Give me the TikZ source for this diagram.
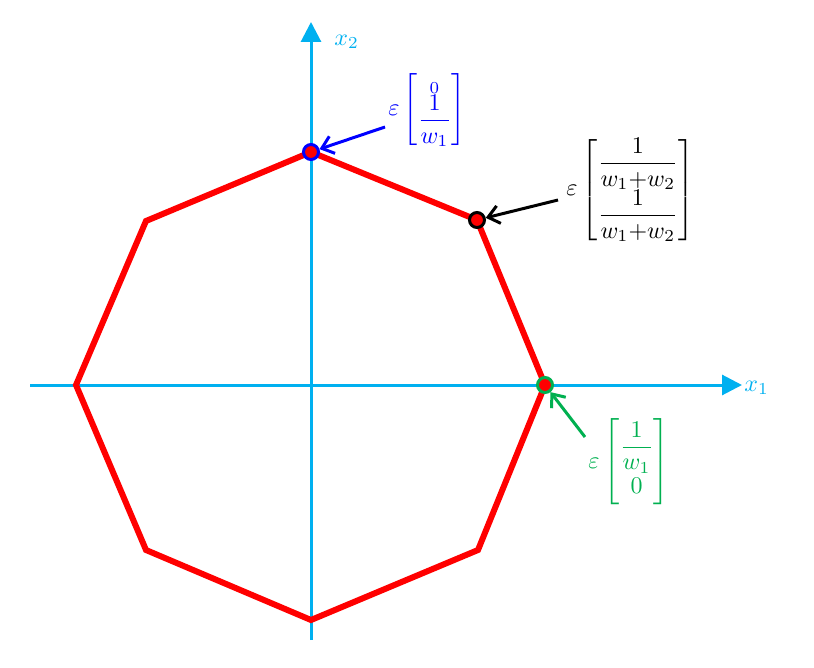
\documentclass[tikz,border=0pt]{standalone}
\usepackage{amsmath}
\definecolor{axc}{RGB}{0,176,240}
\definecolor{grn}{RGB}{0,176,80}
\usetikzlibrary{arrows.meta}
\begin{document}
\begin{tikzpicture}[x=1pt,y=-1pt,
  axis/.style={axc,line width=3pt,-{Triangle[length=20pt,width=20pt]}},
  poly/.style={red,line width=6pt,line join=miter},
  dot/.style={circle,fill=red,draw=#1,line width=3pt,inner sep=0pt,minimum size=15pt},
  lab/.style={font=\normalsize,scale=2.4,inner sep=0pt},
  ptr/.style={line width=3pt,-{Straight Barb[length=11pt,width=18pt]}}]
\useasboundingbox (0,0) rectangle (814,668);
\coordinate (xl) at (30,385); \coordinate (xr) at (742,385);
\coordinate (yb) at (311,640); \coordinate (yt) at (311,22);
\draw[axis] (xl) -- (xr);
\draw[axis] (yb) -- (yt);
\node[axc,lab,anchor=west] (x1) at (744,388) {$x_1$};
\node[axc,lab,anchor=west] (x2) at (334,42) {$x_2$};
\coordinate (p1) at (311,152); \coordinate (p2) at (477,220); \coordinate (p3) at (545,385);
\coordinate (p4) at (478,550); \coordinate (p5) at (311,620); \coordinate (p6) at (146,550);
\coordinate (p7) at (76,385); \coordinate (p8) at (146,221);
\draw[poly] (p1)--(p2)--(p3)--(p4)--(p5)--(p6)--(p7)--(p8)--cycle;
\node[dot=blue] (d1) at (p1) {};
\node[dot=black] (d2) at (p2) {};
\node[dot=grn] (d3) at (p3) {};
\node[lab,blue,anchor=west] (l1) at (388,110) {$\varepsilon\begin{bmatrix}\scriptstyle 0\\[-3pt] \dfrac{1}{w_1}\end{bmatrix}$};
\node[lab,black,anchor=west] (l2) at (566,190) {$\varepsilon\begin{bmatrix}\dfrac{1}{w_1{+}w_2}\\[3pt] \dfrac{1}{w_1{+}w_2}\end{bmatrix}$};
\node[lab,grn,anchor=west] (l3) at (588,462) {$\varepsilon\begin{bmatrix}\dfrac{1}{w_1}\\[3pt] 0\end{bmatrix}$};
\coordinate (a1) at (385,127); \coordinate (a2) at (558,200); \coordinate (a3) at (585,437);
\draw[ptr,blue] (a1) -- (d1);
\draw[ptr,black] (a2) -- (d2);
\draw[ptr,grn] (a3) -- (d3);
\end{tikzpicture}
\end{document}
